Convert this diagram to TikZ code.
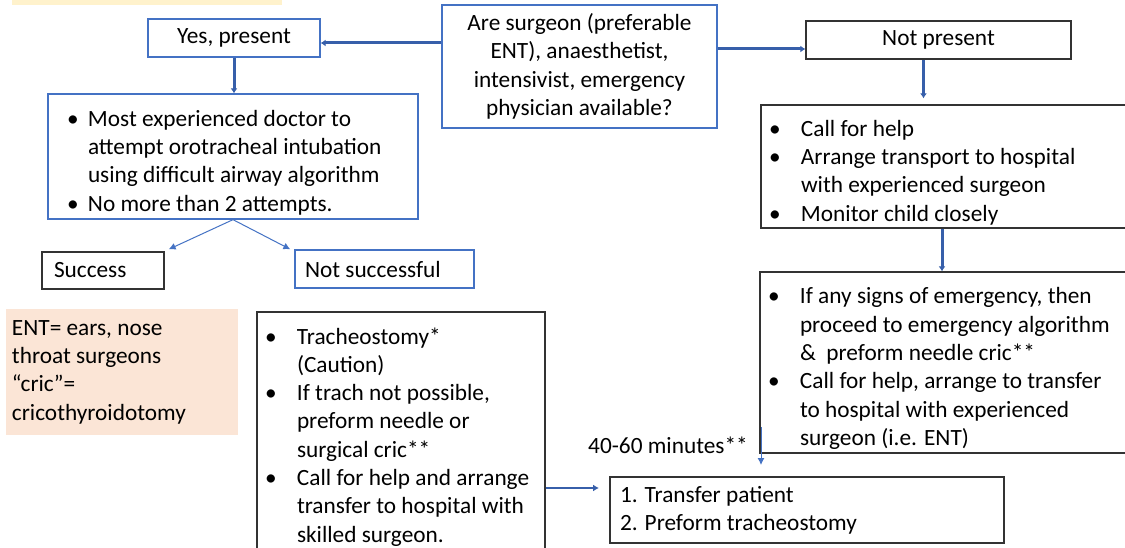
\documentclass[tikz,border=0pt]{standalone}
\usepackage{fontspec}
\setmainfont{Carlito}
\usetikzlibrary{arrows.meta,positioning,calc}
\definecolor{boxblue}{RGB}{68,114,196}
\definecolor{linkblue}{RGB}{55,95,170}
\definecolor{notepeach}{RGB}{251,229,214}
\definecolor{noteyellow}{RGB}{255,242,204}
% bullet point with hanging indent, optional bullet offset
\newcommand{\bitem}[2][8pt]{\par\noindent\hangindent=40pt\hangafter=1\hbox to 40pt{\hskip#1\textbullet\hfil}#2\par}

\begin{document}
\begin{tikzpicture}[x=1pt,y=-1pt,
  every node/.style={font=\fontsize{23.3}{28.3}\selectfont},
  bluebox/.style={draw=boxblue,line width=1.3pt,inner sep=0pt},
  blackbox/.style={draw=black!80,line width=1.3pt,inner sep=0pt},
  thicklink/.style={draw=linkblue,line width=3pt,-{Latex[length=5pt,width=7pt]}},
  thinlink/.style={draw=boxblue,line width=1pt,-{Latex[length=7pt,width=7pt]}},
  midlink/.style={draw=linkblue,line width=2pt,-{Latex[length=6pt,width=7pt]}}]

  \useasboundingbox (0,0) rectangle (1125,548);
  \clip (0,0) rectangle (1125,548);
  \fill[white] (0,0) rectangle (1125,548);

  % strip of a note cut off at the top
  \fill[noteyellow] (12,0) rectangle (282,5);

  % question and the two answers
  \node[bluebox,minimum width=275pt,minimum height=123pt,align=center] (quest) at (579.5,66.5)
    {Are surgeon (preferable\\ENT), anaesthetist,\\intensivist, emergency\\physician available?};
  \node[bluebox,minimum width=172pt,minimum height=38pt] (yes) at (234,38) {Yes, present};
  \node[blackbox,minimum width=265pt,minimum height=38pt] (notp) at (938.5,40) {Not present};

  % left branch
  \node[bluebox,text width=370pt,minimum height=125pt,align=flush left] (most) at (233,156.5)
    {\bitem[19pt]{Most experienced doctor to\newline attempt orotracheal intubation\newline using difficult airway algorithm}%
     \bitem[19pt]{No more than 2 attempts.}};
  \node[blackbox,text width=98pt,inner xsep=12pt,minimum height=37pt,align=flush left] (succ) at (103,270.5) {Success};
  \node[bluebox,text width=159pt,inner xsep=10pt,minimum height=38pt,align=flush left] (notsucc) at (384.5,269) {Not successful};

  % note on abbreviations
  \node[fill=notepeach,inner sep=0pt,inner xsep=6pt,text width=220pt,minimum height=126pt,align=flush left] (ent) at (122,372)
    {ENT= ears, nose\\throat surgeons\\“cric”=\\cricothyroidotomy};

  \node[blackbox,text width=288pt,minimum height=238pt,align=flush left] (trach) at (401,431)
    {\bitem{Tracheostomy*\newline (Caution)}%
     \bitem{If trach not possible,\newline preform needle or\newline surgical cric**}%
     \bitem{Call for help and arrange\newline transfer to hospital with\newline skilled surgeon.}};

  % right branch
  \node[blackbox,text width=374pt,minimum height=123pt,align=flush left] (call) at (948,166.5)
    {\bitem{Call for help}%
     \bitem{Arrange transport to hospital\newline with experienced surgeon}%
     \bitem{Monitor child closely}};
  \node[blackbox,text width=375pt,minimum height=181pt,align=flush left] (emerg) at (947.5,362.5)
    {\bitem{If any signs of emergency, then\newline proceed to emergency algorithm\newline \&\ \ preform needle cric**}%
     \bitem{Call for help, arrange to transfer\newline to hospital with experienced\newline surgeon (i.e. ENT)}};

  \node[blackbox,text width=374pt,inner xsep=10pt,minimum height=66pt,align=flush left] (transfer) at (807,510)
    {1. Transfer patient\\2. Preform tracheostomy};
  \node (timelbl) at (668,445) {40-60 minutes**};

  % connectors
  \draw[thicklink] ($(quest.west |- yes.east)+(0,5)$) -- ($(yes.east)+(0,5)$);
  \draw[thicklink] ($(quest.east |- notp.west)+(0,9)$) -- ($(notp.west)+(0,9)$);
  \draw[thicklink] (yes.south) -- (yes.south |- most.north);
  \draw[thicklink,shorten >=6pt] ($(notp.south)+(-15,0)$) -- ($(notp.south |- call.north)+(-15,0)$);
  \draw[thicklink] ($(call.south)+(-6,0)$) -- ($(call.south |- emerg.north)+(-6,0)$);
  \draw[thinlink] (most.south) -- ($(succ.north east)+(4,-2)$);
  \draw[thinlink] (most.south) -- ($(notsucc.north west)+(-4,0)$);

  \coordinate (tipA) at (599,488);
  \draw[midlink] (trach.east |- tipA) -- (tipA);
  \coordinate (timeA) at (761,427);
  \coordinate (timeB) at (761,465);
  \draw[thinlink] (timeA) -- (timeB);
\end{tikzpicture}
\end{document}
